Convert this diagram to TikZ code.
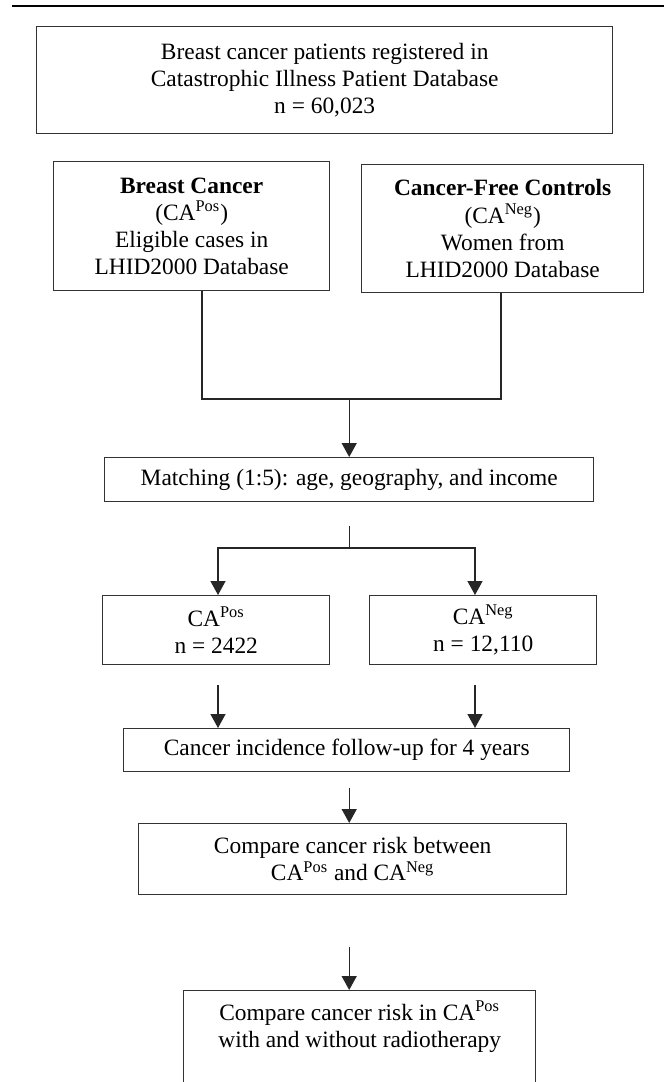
\documentclass[tikz,border=0pt]{standalone}
\usepackage{fontspec}
\setmainfont{Liberation Serif}
\usetikzlibrary{arrows.meta,positioning}

\begin{document}
\begin{tikzpicture}[
      x=0.5pt, y=-0.5pt,
      font=\fontsize{11.7}{13.6}\selectfont,
      box/.style={draw=black!80, line width=0.7pt, rectangle, align=center,
                  inner sep=0pt, anchor=north west},
      line/.style={draw=black!85, line width=0.7pt},
      arrow/.style={line, -{Triangle[length=7pt, width=7.5pt]}},
    ]
    \useasboundingbox (0,0) rectangle (664,1082);
    \clip (0,0) rectangle (664,1082);

    % top rule
    \draw[line width=1pt] (12,6) -- (664,6);

    % ---- Source ----
    \node[box, minimum width=288pt, minimum height=53.5pt] (source) at (36,26)
      {Breast cancer patients registered in\\ Catastrophic Illness Patient Database\\ n = 60,023};

    % ---- Cases and controls ----
    \node[box, minimum width=138pt, minimum height=64.5pt] (cases) at (53,161)
      {\textbf{Breast Cancer}\\ (CA\textsuperscript{Pos})\\ Eligible cases in\\ LHID2000 Database};
    \node[box, minimum width=141pt, minimum height=64pt] (controls) at (361,164)
      {\textbf{Cancer-Free Controls}\\ (CA\textsuperscript{Neg})\\ Women from\\ LHID2000 Database};

    % matching
    \node[box, minimum width=244.5pt, minimum height=22pt] (match) at (104,457)
      {Matching (1:5): age, geography, and income};

    \coordinate (joinL) at (202,399);
    \coordinate (joinR) at (501,399);
    \draw[line] (cases.south -| joinL) -- (joinL) -- (joinR) -- (controls.south -| joinR);
    \draw[arrow] (joinL -| match.north) -- (match.north);

    % ---- Matched groups ----
    \node[box, minimum width=113.5pt, minimum height=34.5pt] (pos) at (102,595)
      {CA\textsuperscript{Pos}\\ n = 2422};
    \node[box, minimum width=113.5pt, minimum height=34.5pt] (neg) at (369,595)
      {CA\textsuperscript{Neg}\\ n = 12,110};

    \coordinate (splitL) at (218,548);
    \coordinate (splitR) at (475,548);
    \draw[line, shorten <=12pt] (match.south) -- (match.south |- splitL);
    \draw[arrow] (splitL -| match.south) -| (pos.north -| splitL);
    \draw[arrow] (splitL -| match.south) -| (neg.north -| splitR);

    % follow-up
    \node[box, minimum width=223pt, minimum height=21.5pt] (follow) at (123,728)
      {Cancer incidence follow-up for 4 years};
    \draw[arrow, shorten <=10pt] (pos.south -| splitL) -- (follow.north -| splitL);
    \draw[arrow, shorten <=10pt] (neg.south -| splitR) -- (follow.north -| splitR);

    % ---- Comparisons ----
    \node[box, minimum width=214pt, minimum height=35.5pt] (compare) at (138,823)
      {Compare cancer risk between\\ CA\textsuperscript{Pos} and CA\textsuperscript{Neg}};
    \draw[arrow, shorten <=8pt] (follow.south -| match.south) -- (compare.north -| match.south);

    \node[box, inner ysep=5pt] (radio) at (183,990)
      {\parbox[t][60pt][t]{176pt}{\centering
        Compare cancer risk in CA\textsuperscript{Pos}\\ with and without radiotherapy}};
    \draw[arrow, shorten <=26pt] (compare.south -| match.south) -- (radio.north -| match.south);
  \end{tikzpicture}
\end{document}
